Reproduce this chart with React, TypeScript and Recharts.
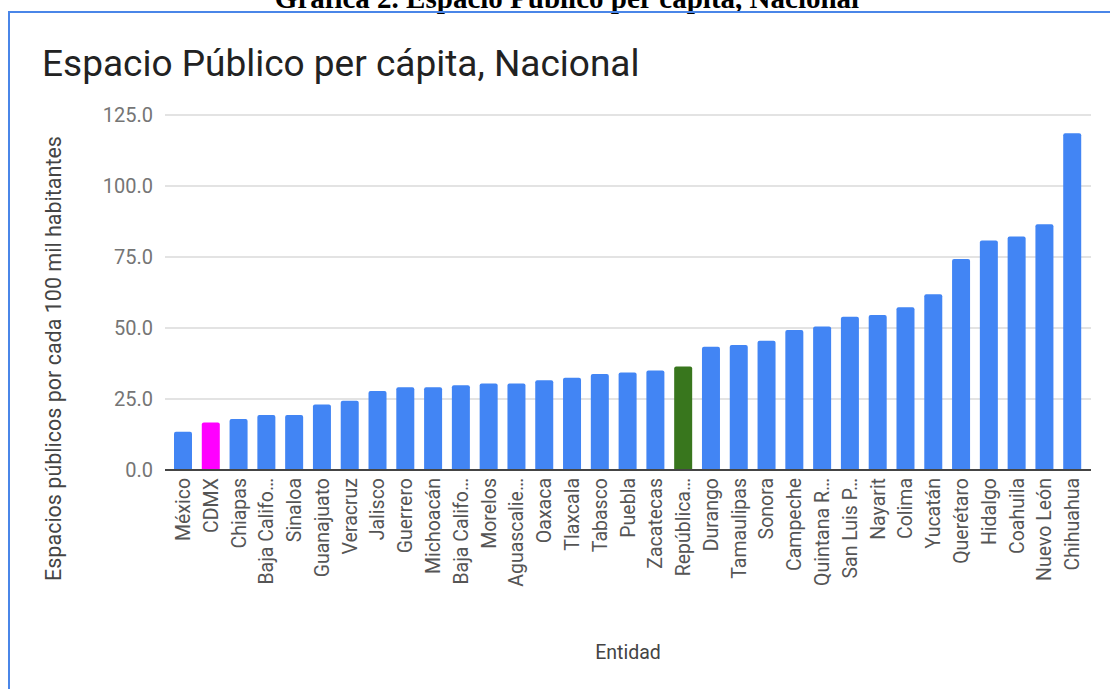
import { BarChart, Bar, XAxis, YAxis, CartesianGrid, Cell } from "recharts";

// Entidades (etiquetas tal como aparecen en la gráfica)
const entidades = [
  "México", "CDMX", "Chiapas", "Baja Califo…", "Sinaloa", "Guanajuato",
  "Veracruz", "Jalisco", "Guerrero", "Michoacán", "Baja Califo…", "Morelos",
  "Aguascalie…", "Oaxaca", "Tlaxcala", "Tabasco", "Puebla", "Zacatecas",
  "República…", "Durango", "Tamaulipas", "Sonora", "Campeche", "Quintana R…",
  "San Luis P…", "Nayarit", "Colima", "Yucatán", "Querétaro", "Hidalgo",
  "Coahuila", "Nuevo León", "Chihuahua",
];

// Espacios públicos por cada 100 mil habitantes
const valores = [
  13.5, 16.7, 18.0, 19.4, 19.4, 23.1,
  24.4, 27.8, 29.1, 29.1, 29.8, 30.5,
  30.5, 31.6, 32.5, 33.8, 34.3, 35.0,
  36.4, 43.4, 44.0, 45.5, 49.3, 50.5,
  54.0, 54.6, 57.3, 61.9, 74.3, 80.8,
  82.2, 86.5, 118.6,
];

const yTicks = [0, 25, 50, 75, 100, 125];

const destacados: Record<string, string> = {
  CDMX: "#ff00ff",
  "República…": "#38761d",
};

const data = entidades.map((nombre, i) => ({
  id: `${nombre}-${i}`,
  nombre,
  valor: valores[i],
}));

const FONT = "Roboto, 'Noto Sans', sans-serif";

const XTick = (props: any) => {
  const { x, y, payload } = props;
  const label = entidades[payload.index] ?? payload.value;
  return (
    <g transform={`translate(${x},${y})`}>
      <text
        transform="rotate(-90)"
        textAnchor="end"
        dy="0.36em"
        fontSize={19.5}
        fill="#555"
        fontFamily={FONT}
      >
        {label}
      </text>
    </g>
  );
};

const YLabel = (props: any) => {
  const { viewBox } = props;
  const cx = 53;
  const cy = viewBox.y + viewBox.height / 2 + 66;
  return (
    <text
      x={cx}
      y={cy}
      transform={`rotate(-90, ${cx}, ${cy})`}
      textAnchor="middle"
      dominantBaseline="central"
      fontSize={21.5}
      fill="#444"
      fontFamily={FONT}
    >
      Espacios públicos por cada 100 mil habitantes
    </text>
  );
};

export default function App() {
  return (
    <div
      style={{
        position: "absolute",
        left: 0,
        top: 0,
        width: 1110,
        height: 689,
        overflow: "hidden",
        background: "#fff",
      }}
    >
      <div
        style={{
          position: "absolute",
          left: 0,
          width: 1134,
          top: -16,
          textAlign: "center",
          fontFamily: "'Liberation Serif', 'Times New Roman', serif",
          fontWeight: "bold",
          fontSize: 29,
          lineHeight: "29px",
          color: "#000",
          whiteSpace: "nowrap",
        }}
      >
        Gráfica 2. Espacio Público per cápita, Nacional
      </div>
      <div
        style={{
          position: "absolute",
          left: 8,
          top: 11,
          width: 1200,
          height: 800,
          border: "2px solid #4a86e8",
          boxSizing: "border-box",
        }}
      />
      <div
        style={{
          position: "absolute",
          left: 42,
          top: 41,
          fontFamily: FONT,
          fontSize: 37,
          lineHeight: "46px",
          color: "#222",
          whiteSpace: "nowrap",
        }}
      >
        Espacio Público per cápita, Nacional
      </div>
      <div style={{ position: "absolute", left: 0, top: 0 }}>
        <BarChart
          width={1110}
          height={689}
          data={data}
          margin={{ top: 115, right: 19, left: 0, bottom: 19 }}
        >
          <CartesianGrid
            vertical={false}
            stroke="#e3e3e3"
            strokeWidth={2}
          />
          <XAxis
            dataKey="id"
            interval={0}
            height={200}
            padding={{ left: 4, right: 5 }}
            tickLine={false}
            axisLine={{ stroke: "#444", strokeWidth: 2 }}
            tick={<XTick />}
            label={{
              value: "Entidad",
              position: "insideBottom",
              offset: 11,
              style: { fontSize: 19.5, fill: "#444", fontFamily: FONT },
            }}
          />
          <YAxis
            type="number"
            domain={[0, 125]}
            ticks={yTicks}
            width={165}
            tickLine={false}
            axisLine={false}
            tickMargin={6}
            tickFormatter={(v: number) => v.toFixed(1)}
            tick={{ fontSize: 20, fill: "#757575", fontFamily: FONT }}
            label={<YLabel />}
          />
          <Bar
            dataKey="valor"
            barSize={18}
            radius={[2, 2, 0, 0]}
            isAnimationActive={false}
          >
            {data.map((d) => (
              <Cell key={d.id} fill={destacados[d.nombre] ?? "#4285f4"} />
            ))}
          </Bar>
        </BarChart>
      </div>
    </div>
  );
}
